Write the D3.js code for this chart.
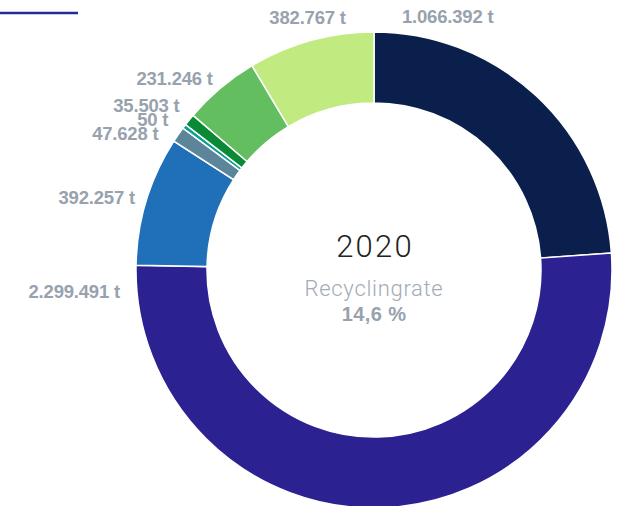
<!DOCTYPE html>
<html>
<head>
<meta charset="utf-8">
<script src="https://cdn.jsdelivr.net/npm/d3@7"></script>
<style>
  body { margin: 0; background: #fff; }
  svg { display: block; }
</style>
</head>
<body>
<svg class="container"></svg>
<script>
// slices clockwise from 12 o'clock
const labels = ['1.066.392 t', '2.299.491 t', '392.257 t', '47.628 t', '50 t', '35.503 t', '231.246 t', '382.767 t'];
const values = [1066392, 2299491, 392257, 47628, 50, 35503, 231246, 382767];
const colors = ['#0b1f4d', '#2c2190', '#1f70b8', '#5c8599', '#0a9e95', '#0a8a37', '#63be60', '#c1eb80'];
const centerYear = '2020';
const centerTitle = 'Recyclingrate';
const centerRate = '14,6 %';

const w = 617, h = 506;
const cx = 374, cy = 270;
const outerR = 238, innerR = 167, labelR = 250;

const svg = d3.select('.container').attr('width', w).attr('height', h);

// short blue rule top left
svg.append('line')
  .attr('x1', 0).attr('x2', 78)
  .attr('y1', 13).attr('y2', 13)
  .attr('stroke', '#232c94')
  .attr('stroke-width', 2.5);

const total = d3.sum(values);
const data = values.map((v, i) => ({ value: v, label: labels[i], color: colors[i] }));

// tiny slices get a minimum visible sweep
const pie = d3.pie()
  .sort(null)
  .value(d => Math.max(d.value, total * 0.003));
const arcs = pie(data);

const arcGen = d3.arc().innerRadius(innerR).outerRadius(outerR);

const g = svg.append('g').attr('transform', `translate(${cx},${cy})`);

g.selectAll('.slice').data(arcs).join('path')
  .attr('class', 'slice')
  .attr('d', arcGen)
  .attr('fill', d => d.data.color)
  .attr('stroke', '#fff')
  .attr('stroke-width', 1.5);

// label placement: mid angle, big slices pulled toward the visible side
const lab = arcs.map(d => {
  let a = (d.startAngle + d.endAngle) / 2;
  let r = labelR;
  const small = d.endAngle - d.startAngle < 0.1;
  let moved = false;
  if (a > 0.35 && a < 4.4) {
    a = d.startAngle === 0 ? d.startAngle + 0.11 : d.endAngle - 0.105;
    r = labelR + 5;
    moved = true;
  }
  const l = { d, a, small, x: r * Math.sin(a), y: -r * Math.cos(a), anchor: null };
  if (!moved && Math.abs(Math.sin(a)) < 0.3) {
    l.anchor = 'middle';
    l.y -= 12 * Math.cos(a);
  }
  return l;
});

// spread crowded labels vertically on the left side
const left = lab.filter(l => l.x < 0 && !l.anchor).sort((p, q) => p.y - q.y);
const gap = 14;
for (let iter = 0; iter < 30; iter++) {
  for (let i = 1; i < left.length; i++) {
    const diff = left[i].y - left[i - 1].y;
    if (diff < gap) {
      const shift = (gap - diff) / 2;
      left[i].y += shift;
      left[i - 1].y -= shift;
    }
  }
}
left.forEach(l => {
  if (!l.small) return;
  const dy = Math.min(Math.abs(l.y), labelR - 1);
  l.x = -Math.sqrt(labelR * labelR - dy * dy) - 6;
});

g.selectAll('.lbl').data(lab).join('text')
  .attr('class', 'lbl')
  .attr('x', l => l.x)
  .attr('y', l => l.y)
  .attr('dy', '0.35em')
  .attr('text-anchor', l => l.anchor || (l.x < 0 ? 'end' : 'start'))
  .attr('font-family', 'Liberation Sans, Arial, sans-serif')
  .attr('font-weight', 'bold')
  .attr('font-size', 18.5)
  .attr('letter-spacing', -0.2)
  .attr('fill', '#98a2ae')
  .text(l => l.d.data.label);

// center text
g.append('text')
  .attr('x', 1)
  .attr('y', -13)
  .attr('text-anchor', 'middle')
  .attr('font-family', 'Roboto, sans-serif')
  .attr('font-weight', 300)
  .attr('font-size', 31)
  .attr('letter-spacing', 2.2)
  .attr('fill', '#222')
  .text(centerYear);

g.append('text')
  .attr('y', 26)
  .attr('text-anchor', 'middle')
  .attr('font-family', 'Roboto, sans-serif')
  .attr('font-weight', 300)
  .attr('font-size', 22)
  .attr('letter-spacing', 0.7)
  .attr('fill', '#a3abb6')
  .text(centerTitle);

g.append('text')
  .attr('y', 51)
  .attr('text-anchor', 'middle')
  .attr('font-family', 'Liberation Sans, Arial, sans-serif')
  .attr('font-weight', 'bold')
  .attr('font-size', 20)
  .attr('letter-spacing', 0.4)
  .attr('fill', '#98a2ae')
  .text(centerRate);
</script>
</body>
</html>
